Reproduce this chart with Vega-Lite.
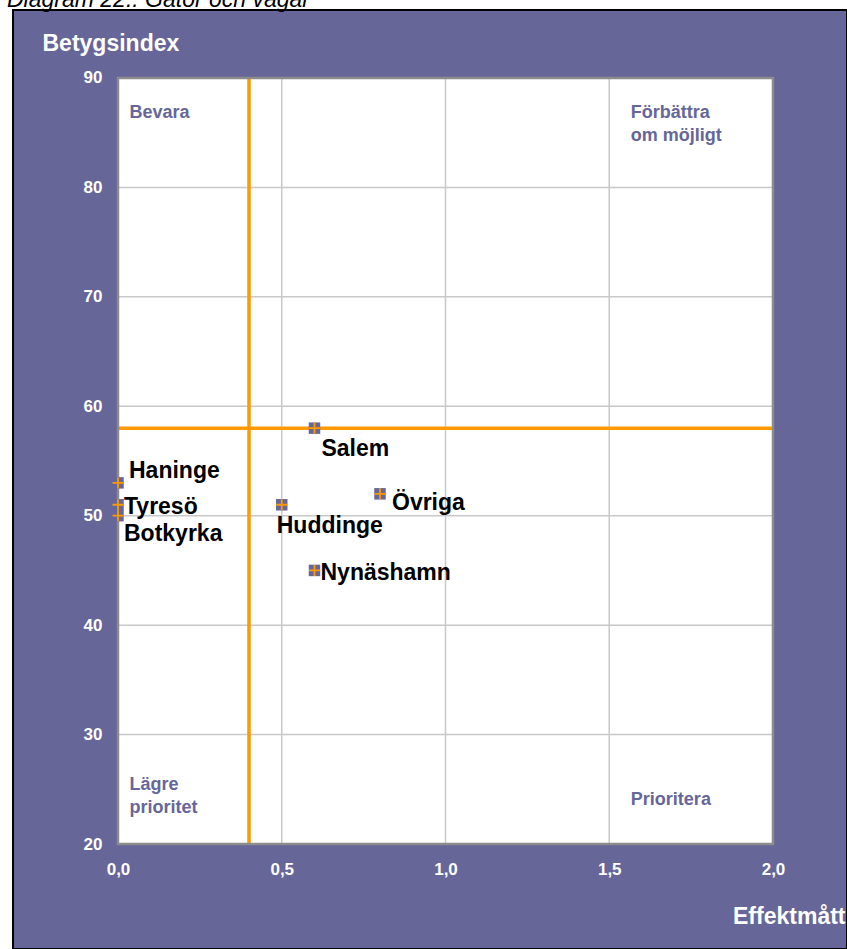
{
  "$schema": "https://vega.github.io/schema/vega-lite/v6.json",
  "width": 834,
  "height": 939,
  "autosize": {"type": "none"},
  "padding": {"left": 13, "top": 10, "right": 0, "bottom": 0},
  "background": "white",
  "title": {
    "text": "Diagram 22.: Gator och vägar",
    "anchor": "start",
    "frame": "group",
    "baseline": "alphabetic",
    "offset": 0,
    "dx": -6,
    "dy": 19.5,
    "font": "Liberation Sans",
    "fontSize": 23,
    "fontStyle": "italic",
    "fontWeight": "normal",
    "color": "black"
  },
  "config": {
    "view": {"fill": "#666699", "stroke": "#000000", "strokeWidth": 2},
    "font": "Liberation Sans",
    "axis": {
      "domain": false, "ticks": false, "grid": false,
      "labelFont": "Liberation Sans", "labelFontSize": 17, "labelFontWeight": "bold", "labelColor": "white",
      "titleFont": "Liberation Sans", "titleFontSize": 23, "titleFontWeight": "bold", "titleColor": "white",
      "titleAngle": 0, "titleBaseline": "alphabetic", "offset": -105
    },
    "axisX": {
      "labelPadding": 17,
      "titleAlign": "right", "titleX": 832, "titleY": 79
    },
    "axisY": {
      "labelPadding": 16,
      "titleAlign": "left", "titleX": -76, "titleY": 40
    }
  },
  "datasets": {
    "one": [{}],
    "points": [
      {"namn": "Salem", "effekt": 0.6, "betyg": 58},
      {"namn": "Övriga", "effekt": 0.8, "betyg": 52},
      {"namn": "Huddinge", "effekt": 0.5, "betyg": 51},
      {"namn": "Nynäshamn", "effekt": 0.6, "betyg": 45},
      {"namn": "Haninge", "effekt": 0.0, "betyg": 53},
      {"namn": "Tyresö", "effekt": 0.0, "betyg": 51},
      {"namn": "Botkyrka", "effekt": 0.0, "betyg": 50}
    ],
    "gridx": [{"v": 0.5}, {"v": 1.0}, {"v": 1.5}],
    "gridy": [{"v": 30}, {"v": 40}, {"v": 50}, {"v": 60}, {"v": 70}, {"v": 80}],
    "quadrants": [
      {"text": "Bevara", "effekt": 0.035, "betyg": 86.3},
      {"text": "Förbättra\nom möjligt", "effekt": 1.566, "betyg": 86.3},
      {"text": "Lägre\nprioritet", "effekt": 0.035, "betyg": 24.9},
      {"text": "Prioritera", "effekt": 1.566, "betyg": 23.6}
    ]
  },
  "layer": [
    {
      "data": {"name": "one"},
      "mark": {"type": "rect", "fill": "white"},
      "encoding": {
        "x": {"datum": 0, "type": "quantitative", "title": "Effektmått", "scale": {"domain": [-0.3206, 2.226], "nice": false, "zero": false},
          "axis": {"values": [0, 0.5, 1, 1.5, 2], "labelExpr": "replace(format(datum.value, '.1f'), '.', ',')"}},
        "x2": {"datum": 2},
        "y": {"datum": 20, "type": "quantitative", "title": "Betygsindex", "scale": {"domain": [10.405, 96.214], "nice": false, "zero": false},
          "axis": {"values": [20, 30, 40, 50, 60, 70, 80, 90]}},
        "y2": {"datum": 90}
      }
    },
    {
      "data": {"name": "gridx"},
      "mark": {"type": "rule", "color": "#c8c8c8", "strokeWidth": 1.5},
      "encoding": {
        "x": {"field": "v", "type": "quantitative", "title": "Effektmått", "scale": {"domain": [-0.3206, 2.226], "nice": false, "zero": false}},
        "y": {"datum": 20, "type": "quantitative", "title": "Betygsindex", "scale": {"domain": [10.405, 96.214], "nice": false, "zero": false}},
        "y2": {"datum": 90}
      }
    },
    {
      "data": {"name": "gridy"},
      "mark": {"type": "rule", "color": "#c8c8c8", "strokeWidth": 1.5},
      "encoding": {
        "y": {"field": "v", "type": "quantitative", "title": "Betygsindex", "scale": {"domain": [10.405, 96.214], "nice": false, "zero": false}},
        "x": {"datum": 0, "type": "quantitative", "title": "Effektmått", "scale": {"domain": [-0.3206, 2.226], "nice": false, "zero": false}},
        "x2": {"datum": 2}
      }
    },
    {
      "data": {"name": "one"},
      "mark": {"type": "rule", "color": "#ff9900", "strokeWidth": 3.5},
      "encoding": {
        "x": {"datum": 0.4, "type": "quantitative", "title": "Effektmått", "scale": {"domain": [-0.3206, 2.226], "nice": false, "zero": false}},
        "y": {"datum": 20, "type": "quantitative", "title": "Betygsindex", "scale": {"domain": [10.405, 96.214], "nice": false, "zero": false}},
        "y2": {"datum": 90}
      }
    },
    {
      "data": {"name": "one"},
      "mark": {"type": "rule", "color": "#ff9900", "strokeWidth": 3.5},
      "encoding": {
        "y": {"datum": 58, "type": "quantitative", "title": "Betygsindex", "scale": {"domain": [10.405, 96.214], "nice": false, "zero": false}},
        "x": {"datum": 0, "type": "quantitative", "title": "Effektmått", "scale": {"domain": [-0.3206, 2.226], "nice": false, "zero": false}},
        "x2": {"datum": 2}
      }
    },
    {
      "data": {"name": "one"},
      "mark": {"type": "rect", "fill": "white", "fillOpacity": 0, "stroke": "#8c8c8c", "strokeWidth": 2.5},
      "encoding": {
        "x": {"datum": 0, "type": "quantitative", "title": "Effektmått", "scale": {"domain": [-0.3206, 2.226], "nice": false, "zero": false}},
        "x2": {"datum": 2},
        "y": {"datum": 20, "type": "quantitative", "title": "Betygsindex", "scale": {"domain": [10.405, 96.214], "nice": false, "zero": false}},
        "y2": {"datum": 90}
      }
    },
    {
      "data": {"name": "quadrants"},
      "mark": {"type": "text", "align": "left", "baseline": "alphabetic", "font": "Liberation Sans", "fontSize": 18, "fontWeight": "bold", "color": "#666699", "lineBreak": "\n", "lineHeight": 22.5},
      "encoding": {
        "x": {"field": "effekt", "type": "quantitative", "title": "Effektmått", "scale": {"domain": [-0.3206, 2.226], "nice": false, "zero": false}},
        "y": {"field": "betyg", "type": "quantitative", "title": "Betygsindex", "scale": {"domain": [10.405, 96.214], "nice": false, "zero": false}},
        "text": {"field": "text"}
      }
    },
    {
      "data": {"name": "points"},
      "mark": {"type": "point", "shape": "square", "filled": true, "size": 132, "color": "#666699", "opacity": 1},
      "encoding": {
        "x": {"field": "effekt", "type": "quantitative", "title": "Effektmått", "scale": {"domain": [-0.3206, 2.226], "nice": false, "zero": false}},
        "y": {"field": "betyg", "type": "quantitative", "title": "Betygsindex", "scale": {"domain": [10.405, 96.214], "nice": false, "zero": false}}
      }
    },
    {
      "data": {"name": "points"},
      "mark": {"type": "point", "shape": "M-1,0H1M0,-1V1", "filled": false, "size": 121, "stroke": "#ff9900", "strokeWidth": 1.8, "opacity": 1},
      "encoding": {
        "x": {"field": "effekt", "type": "quantitative", "title": "Effektmått", "scale": {"domain": [-0.3206, 2.226], "nice": false, "zero": false}},
        "y": {"field": "betyg", "type": "quantitative", "title": "Betygsindex", "scale": {"domain": [10.405, 96.214], "nice": false, "zero": false}}
      }
    },
    {
      "data": {"name": "points"},
      "transform": [{"filter": "datum.namn === 'Salem'"}],
      "mark": {"type": "text", "align": "left", "baseline": "middle", "dx": 7, "dy": 21, "font": "Liberation Sans", "fontSize": 23, "fontWeight": "bold", "color": "black"},
      "encoding": {
        "x": {"field": "effekt", "type": "quantitative", "title": "Effektmått", "scale": {"domain": [-0.3206, 2.226], "nice": false, "zero": false}},
        "y": {"field": "betyg", "type": "quantitative", "title": "Betygsindex", "scale": {"domain": [10.405, 96.214], "nice": false, "zero": false}},
        "text": {"field": "namn"}
      }
    },
    {
      "data": {"name": "points"},
      "transform": [{"filter": "datum.namn === 'Övriga'"}],
      "mark": {"type": "text", "align": "left", "baseline": "middle", "dx": 12, "dy": 9, "font": "Liberation Sans", "fontSize": 23, "fontWeight": "bold", "color": "black"},
      "encoding": {
        "x": {"field": "effekt", "type": "quantitative", "title": "Effektmått", "scale": {"domain": [-0.3206, 2.226], "nice": false, "zero": false}},
        "y": {"field": "betyg", "type": "quantitative", "title": "Betygsindex", "scale": {"domain": [10.405, 96.214], "nice": false, "zero": false}},
        "text": {"field": "namn"}
      }
    },
    {
      "data": {"name": "points"},
      "transform": [{"filter": "datum.namn === 'Huddinge'"}],
      "mark": {"type": "text", "align": "left", "baseline": "middle", "dx": -5, "dy": 21, "font": "Liberation Sans", "fontSize": 23, "fontWeight": "bold", "color": "black"},
      "encoding": {
        "x": {"field": "effekt", "type": "quantitative", "title": "Effektmått", "scale": {"domain": [-0.3206, 2.226], "nice": false, "zero": false}},
        "y": {"field": "betyg", "type": "quantitative", "title": "Betygsindex", "scale": {"domain": [10.405, 96.214], "nice": false, "zero": false}},
        "text": {"field": "namn"}
      }
    },
    {
      "data": {"name": "points"},
      "transform": [{"filter": "datum.namn === 'Nynäshamn' || datum.namn === 'Tyresö'"}],
      "mark": {"type": "text", "align": "left", "baseline": "middle", "dx": 6, "dy": 2.5, "font": "Liberation Sans", "fontSize": 23, "fontWeight": "bold", "color": "black"},
      "encoding": {
        "x": {"field": "effekt", "type": "quantitative", "title": "Effektmått", "scale": {"domain": [-0.3206, 2.226], "nice": false, "zero": false}},
        "y": {"field": "betyg", "type": "quantitative", "title": "Betygsindex", "scale": {"domain": [10.405, 96.214], "nice": false, "zero": false}},
        "text": {"field": "namn"}
      }
    },
    {
      "data": {"name": "points"},
      "transform": [{"filter": "datum.namn === 'Haninge'"}],
      "mark": {"type": "text", "align": "left", "baseline": "middle", "dx": 11, "dy": -11.5, "font": "Liberation Sans", "fontSize": 23, "fontWeight": "bold", "color": "black"},
      "encoding": {
        "x": {"field": "effekt", "type": "quantitative", "title": "Effektmått", "scale": {"domain": [-0.3206, 2.226], "nice": false, "zero": false}},
        "y": {"field": "betyg", "type": "quantitative", "title": "Betygsindex", "scale": {"domain": [10.405, 96.214], "nice": false, "zero": false}},
        "text": {"field": "namn"}
      }
    },
    {
      "data": {"name": "points"},
      "transform": [{"filter": "datum.namn === 'Botkyrka'"}],
      "mark": {"type": "text", "align": "left", "baseline": "middle", "dx": 6, "dy": 18, "font": "Liberation Sans", "fontSize": 23, "fontWeight": "bold", "color": "black"},
      "encoding": {
        "x": {"field": "effekt", "type": "quantitative", "title": "Effektmått", "scale": {"domain": [-0.3206, 2.226], "nice": false, "zero": false}},
        "y": {"field": "betyg", "type": "quantitative", "title": "Betygsindex", "scale": {"domain": [10.405, 96.214], "nice": false, "zero": false}},
        "text": {"field": "namn"}
      }
    }
  ]
}
